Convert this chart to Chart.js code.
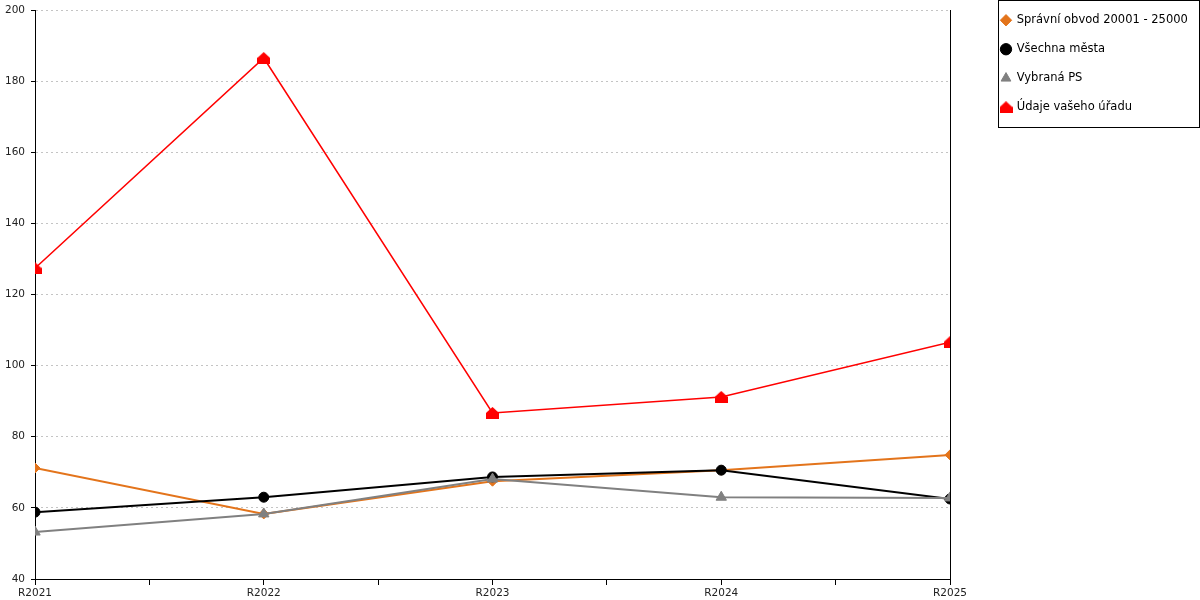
<!DOCTYPE html>
<html>
<head>
<meta charset="utf-8">
<script src="https://cdn.jsdelivr.net/npm/chart.js@4/dist/chart.umd.min.js"></script>
<style>
  html, body { margin: 0; padding: 0; background: #fff; }
  #wrap { width: 1200px; height: 600px; }
</style>
</head>
<body>
<div id="wrap"><canvas id="chart"></canvas></div>
<script>
const years = ['R2021', 'R2022', 'R2023', 'R2024', 'R2025'];
const spravniObvod = [71.2, 58.3, 67.5, 70.6, 74.9];
const vsechnaMesta = [58.8, 63.0, 68.7, 70.6, 62.5];
const vybranaPS = [53.2, 58.3, 68.1, 63.0, 62.8];
const udajeUradu = [127.4, 186.5, 86.7, 91.2, 106.6];
const yTicks = { min: 40, max: 200, step: 20 };

// "house" marker used for the office series
function houseMarker(color) {
    const c = document.createElement('canvas');
    c.width = 13;
    c.height = 12;
    const g = c.getContext('2d');
    g.fillStyle = color;
    g.beginPath();
    g.moveTo(0, 12);
    g.lineTo(0, 6);
    g.lineTo(6.5, 0);
    g.lineTo(13, 6);
    g.lineTo(13, 12);
    g.closePath();
    g.fill();
    return c;
}

function toPoints(values) {
    return values.map((v, i) => ({ x: i, y: v }));
}

const font = { family: '"DejaVu Sans", Verdana, sans-serif', size: 10.5 };

const legendFrame = {
    id: 'legendFrame',
    beforeLayout(chart) {
        const lg = chart.legend;
        if (lg && !lg._fixed) {
            const fit = lg.fit.bind(lg);
            lg.fit = function () { fit(); this.width = 216.5; };
            lg._fixed = true;
        }
    },
    afterLayout(chart) {
        if (chart.legend) chart.legend.top = -3;
    },
    afterDraw(chart) {
        const lg = chart.legend;
        const ctx = chart.ctx;
        ctx.save();
        ctx.strokeStyle = '#000';
        ctx.lineWidth = 1;
        ctx.strokeRect(Math.round(lg.left + 14) + 0.5, 0.5, 201, 127);
        ctx.restore();
    }
};

// first dataset is drawn on top, so the list is reversed and the legend flips it back
const datasets = [
    {
        label: 'Údaje vašeho úřadu',
        data: toPoints(udajeUradu),
        borderColor: '#ff0000',
        backgroundColor: '#ff0000',
        borderWidth: 1.5,
        pointStyle: houseMarker('#ff0000'),
        pointRadius: 6
    },
    {
        label: 'Vybraná PS',
        data: toPoints(vybranaPS),
        borderColor: '#808080',
        backgroundColor: '#808080',
        borderWidth: 2,
        pointStyle: 'triangle',
        pointRadius: 6
    },
    {
        label: 'Všechna města',
        data: toPoints(vsechnaMesta),
        borderColor: '#000000',
        backgroundColor: '#000000',
        borderWidth: 2,
        pointStyle: 'circle',
        pointRadius: 5
    },
    {
        label: 'Správní obvod 20001 - 25000',
        data: toPoints(spravniObvod),
        borderColor: '#e3741b',
        backgroundColor: '#e3741b',
        borderWidth: 2,
        pointStyle: 'rectRot',
        pointRadius: 5
    }
];
datasets.forEach(d => {
    d.pointBackgroundColor = d.backgroundColor;
    d.pointBorderColor = d.borderColor;
    d.pointBorderWidth = 1;
    d.tension = 0;
    d.fill = false;
});

new Chart(document.getElementById('chart'), {
    type: 'line',
    data: { datasets },
    plugins: [legendFrame],
    options: {
        responsive: true,
        maintainAspectRatio: false,
        animation: false,
        layout: { padding: { top: 10, left: 0, right: 0, bottom: 0 } },
        plugins: {
            tooltip: { enabled: false },
            legend: {
                position: 'right',
                align: 'start',
                reverse: true,
                labels: {
                    usePointStyle: true,
                    boxWidth: 10,
                    boxHeight: 8,
                    padding: 17.5,
                    color: '#000',
                    font: { family: font.family, size: 11.5 }
                }
            }
        },
        scales: {
            x: {
                type: 'linear',
                min: 0,
                max: years.length - 1,
                afterBuildTicks(scale) {
                    const t = [];
                    for (let v = 0; v <= years.length - 1; v += 0.5) t.push({ value: v });
                    scale.ticks = t;
                },
                afterFit(scale) { scale.height = 21; },
                ticks: {
                    autoSkip: false,
                    maxRotation: 0,
                    padding: 2,
                    color: '#222',
                    font,
                    callback: v => Number.isInteger(v) ? years[v] : ''
                },
                grid: {
                    drawOnChartArea: false,
                    tickLength: 6,
                    tickColor: '#000'
                },
                border: { display: true, color: '#000', width: 1 }
            },
            y: {
                min: yTicks.min,
                max: yTicks.max,
                afterFit(scale) {
                    scale.width = 35;
                    scale.paddingTop = 0;
                    scale.paddingBottom = 0;
                },
                ticks: {
                    stepSize: yTicks.step,
                    padding: 6,
                    color: '#222',
                    font
                },
                grid: {
                    color: '#c4c4c4',
                    lineWidth: 1,
                    tickColor: '#000',
                    tickLength: 4
                },
                border: { display: true, color: '#000', width: 1, dash: [2, 3] }
            },
            yRight: {
                position: 'right',
                min: 0,
                max: 1,
                afterFit(scale) { scale.width = 33.5; },
                ticks: { display: false },
                grid: { display: false },
                border: { display: true, color: '#000', width: 1 }
            }
        }
    }
});
</script>
</body>
</html>
